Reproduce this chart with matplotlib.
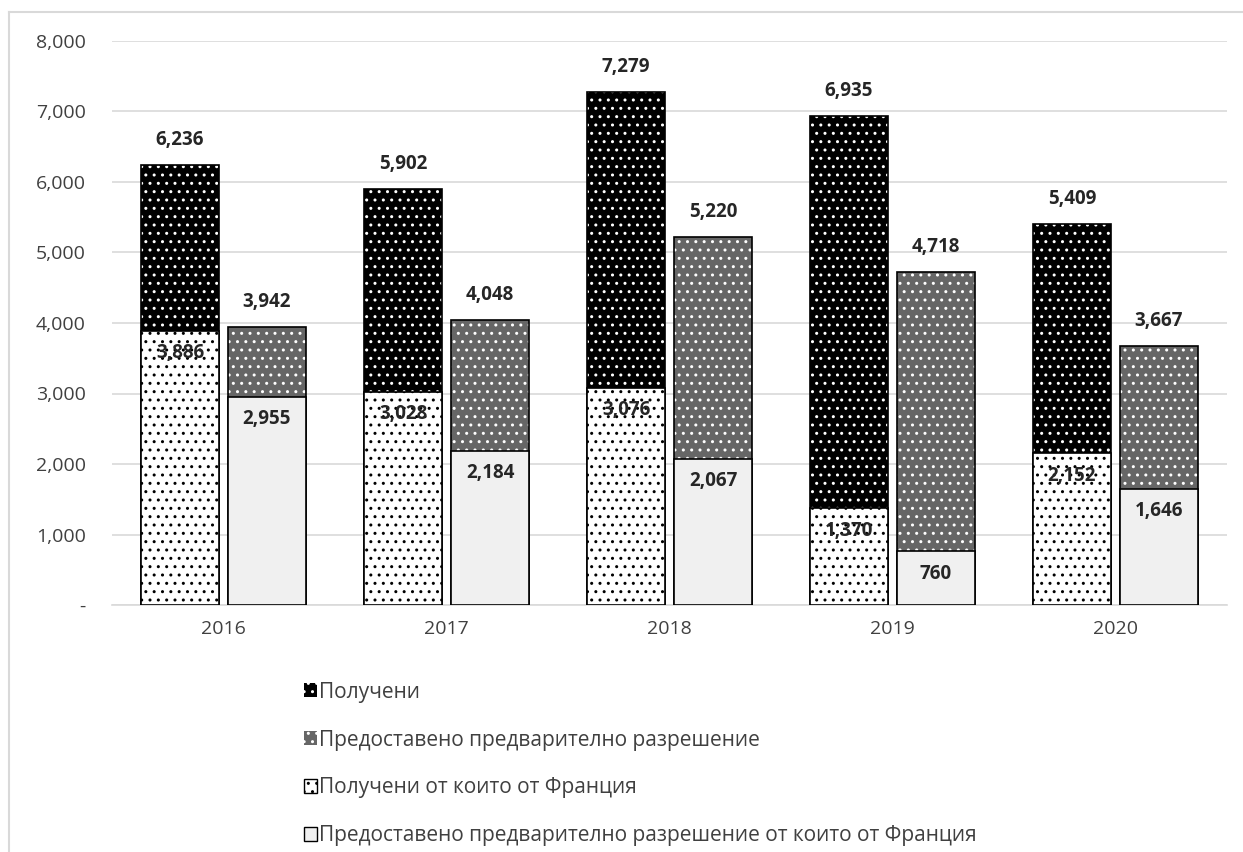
import matplotlib
matplotlib.use("Agg")
import matplotlib.pyplot as plt
import numpy as np
from matplotlib.lines import Line2D
from matplotlib.patches import Patch
from matplotlib.ticker import FuncFormatter

plt.rcParams['font.family'] = ['Open Sans', 'DejaVu Sans']
plt.rcParams['hatch.linewidth'] = 1.0

years = ['2016', '2017', '2018', '2019', '2020']
received = [6236, 5902, 7279, 6935, 5409]
authorised = [3942, 4048, 5220, 4718, 3667]
received_fr = [3886, 3028, 3076, 1370, 2152]
authorised_fr = [2955, 2184, 2067, 760, 1646]

lbl_rec = 'Получени'
lbl_auth = 'Предоставено предварително разрешение'
lbl_rec_fr = 'Получени от които от Франция'
lbl_auth_fr = 'Предоставено предварително разрешение от които от Франция'

fig = plt.figure(figsize=(12.43, 8.52), dpi=100)
ax = fig.add_axes([112/1243, 1-605/852, (1227-112)/1243, (605-41)/852])

x = np.arange(len(years))
w = 0.35
off = 0.195
xl = x - off
xr = x + off

# totals
ax.bar(xl, received, w, color='black', edgecolor='white', hatch='..', lw=0, zorder=2)
ax.bar(xl, received, w, color='none', edgecolor='black', lw=1.2, zorder=3)
ax.bar(xr, authorised, w, color='#666666', edgecolor='white', hatch='..', lw=0, zorder=2)
ax.bar(xr, authorised, w, color='none', edgecolor='black', lw=1.2, zorder=3)
# France parts
ax.bar(xl, received_fr, w, color='white', edgecolor='black', hatch='..', lw=1.2, zorder=4)
ax.bar(xr, authorised_fr, w, color='#f0f0f0', edgecolor='black', lw=1.2, zorder=4)

for xs, vals in [(xl, received), (xr, authorised)]:
    for xi, v in zip(xs, vals):
        ax.annotate(f'{v:,}', (xi, v), xytext=(0, 18), textcoords='offset points',
                    ha='center', va='center', fontsize=13.5, fontweight='bold', color='#262626', zorder=6)
for xs, vals in [(xl, received_fr), (xr, authorised_fr)]:
    for xi, v in zip(xs, vals):
        ax.annotate(f'{v:,}', (xi, v), xytext=(0, -16), textcoords='offset points',
                    ha='center', va='center', fontsize=13.5, fontweight='bold', color='#262626', zorder=6)

ax.set_xlim(-0.5, len(years) - 0.5)
ax.set_ylim(0, 8000)
ax.set_yticks(range(0, 8001, 1000))
ax.yaxis.set_major_formatter(FuncFormatter(lambda v, p: '-' if v == 0 else f'{int(v):,}'))
ax.set_xticks(x)
ax.set_xticklabels(years)
ax.tick_params(length=0, labelsize=14, colors='#404040')
ax.tick_params(axis='y', pad=19)
ax.tick_params(axis='x', pad=11)
ax.grid(axis='y', color='#d9d9d9', lw=1.2, zorder=0)
ax.set_axisbelow(True)
for s in ['left', 'right', 'top']:
    ax.spines[s].set_visible(False)
ax.spines['bottom'].set_color('#d9d9d9')
ax.spines['bottom'].set_linewidth(1.2)

handles = [
    Patch(facecolor='black', edgecolor='white', hatch='..', lw=0),
    Patch(facecolor='#666666', edgecolor='white', hatch='..', lw=0),
    Patch(facecolor='white', edgecolor='black', hatch='..', lw=1),
    Patch(facecolor='#f0f0f0', edgecolor='black', lw=1),
]
fig.legend(handles, [lbl_rec, lbl_auth, lbl_rec_fr, lbl_auth_fr], loc='upper left',
           bbox_to_anchor=(285/1243, 1-663/852), frameon=False, fontsize=15,
           handlelength=0.65, handleheight=0.65, handletextpad=0.1, labelspacing=1.29,
           labelcolor='#404040')

# outer chart border (partly cropped)
fig.add_artist(Line2D([9/1243, 9/1243], [0, 1-12/852], color='#d9d9d9', lw=1.5))
fig.add_artist(Line2D([9/1243, 1], [1-12/852, 1-12/852], color='#d9d9d9', lw=1.5))

fig.savefig('out.png', dpi=100)
